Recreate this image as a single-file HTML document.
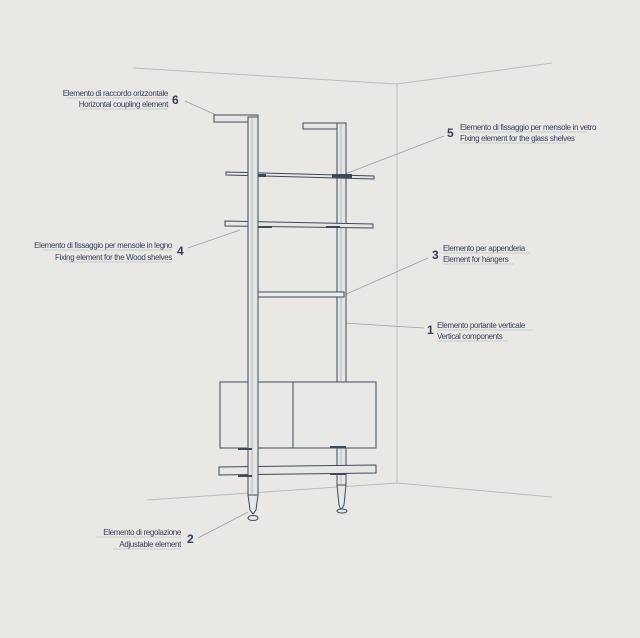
<!DOCTYPE html>
<html><head><meta charset="utf-8"><style>
html,body{margin:0;padding:0;background:#e9e8e5;}
svg{display:block}
text{font-family:"Liberation Sans",sans-serif;fill:#34405a;}
.t{font-size:8px;letter-spacing:-0.35px}
.n{font-size:12px;font-weight:bold}
</style></head><body>
<svg width="640" height="638" viewBox="0 0 640 638">
<rect width="640" height="638" fill="#e9e8e5"/>
<g stroke="#b9bbbd" stroke-width="1" fill="none">
<polyline points="133,68 397,84 552,63"/>
<line x1="397" y1="84" x2="397" y2="483"/>
<polyline points="147,500 397,483 552,497"/>
</g>
<g stroke="#9a9fa6" stroke-width="0.8" fill="none">
<line x1="185" y1="101" x2="216" y2="115"/>
<line x1="444" y1="136" x2="345" y2="174"/>
<line x1="188" y1="248" x2="240" y2="230"/>
<line x1="428" y1="258" x2="342" y2="296"/>
<line x1="424" y1="328" x2="343" y2="323"/>
<line x1="198" y1="538" x2="248" y2="512"/>
</g>
<g stroke="#3d4a5c" stroke-width="1" fill="#e6e6e4">
<rect x="303" y="123" width="43" height="6"/>
<rect x="337" y="123" width="9" height="362"/>
<path d="M337,485 L346,485 L344,505 L341,510 L339,505 Z"/>
<ellipse cx="342" cy="511" rx="5" ry="2"/>
</g>
<line x1="341" y1="124" x2="341" y2="485" stroke="#8e98a5" stroke-width="0.6"/>
<g stroke="#3d4a5c" stroke-width="1" fill="#e6e6e4">
<polygon points="226,172 374,176 374,179 226,175"/>
<polygon points="225,221 373,224 373,228 225,226"/>
<rect x="258" y="292" width="86" height="5" fill="#ecedec"/>
<rect x="220" y="382" width="156" height="66" fill="#e8e8e6"/>
<line x1="293" y1="382" x2="293" y2="448"/>
<polygon points="219,467 376,465 376,473 219,475"/>
<rect x="214" y="115" width="44" height="7"/>
<rect x="248" y="117" width="10" height="378"/>
<path d="M248,495 L258,495 L256,510 L253,514 L250,510 Z"/>
<ellipse cx="253" cy="518" rx="5" ry="2.5"/>
</g>
<line x1="252" y1="118" x2="252" y2="495" stroke="#8e98a5" stroke-width="0.6"/>
<g fill="#3d4a5c">
<rect x="258" y="174" width="8" height="3"/><rect x="332" y="174" width="20" height="4"/>
<rect x="258" y="226" width="14" height="2"/><rect x="326" y="226" width="14" height="2"/>
<rect x="238" y="448" width="14" height="2"/><rect x="330" y="446" width="16" height="2"/>
<rect x="238" y="475" width="14" height="2"/><rect x="330" y="473" width="16" height="2"/>
</g>
<g>
<text class="t" x="168" y="96" text-anchor="end">Elemento di raccordo orizzontale</text>
<text class="t" x="168" y="107" text-anchor="end">Horizontal coupling element</text>
<text class="n" x="172" y="104">6</text>
<text class="t" x="460" y="130">Elemento di fissaggio per mensole in vetro</text>
<text class="t" x="460" y="141">Fixing element for the glass shelves</text>
<text class="n" x="447" y="137">5</text>
<text class="t" x="172" y="248" text-anchor="end">Elemento di fissaggio per mensole in legno</text>
<text class="t" x="172" y="260" text-anchor="end">Fixing element for the Wood shelves</text>
<text class="n" x="177" y="255">4</text>
<text class="t" x="443" y="251">Elemento per appenderia</text>
<text class="t" x="443" y="262">Element for hangers</text>
<text class="n" x="432" y="259">3</text>
<text class="t" x="437" y="328">Elemento portante verticale</text>
<text class="t" x="437" y="339">Vertical components</text>
<text class="n" x="427" y="334">1</text>
<text class="t" x="181" y="535" text-anchor="end">Elemento di regolazione</text>
<text class="t" x="181" y="547" text-anchor="end">Adjustable element</text>
<text class="n" x="187" y="543">2</text>
</g>
<g stroke="#a9b0ba" stroke-width="0.6">
<line x1="66" y1="98" x2="168" y2="98"/><line x1="80" y1="109" x2="168" y2="109"/>
<line x1="460" y1="132" x2="587" y2="132"/><line x1="460" y1="143" x2="567" y2="143"/>
<line x1="42" y1="250" x2="172" y2="250"/><line x1="62" y1="262" x2="172" y2="262"/>
<line x1="443" y1="253" x2="530" y2="253"/><line x1="443" y1="264" x2="514" y2="264"/>
<line x1="437" y1="330" x2="534" y2="330"/><line x1="437" y1="341" x2="508" y2="341"/>
<line x1="96" y1="537" x2="181" y2="537"/><line x1="113" y1="549" x2="181" y2="549"/>
</g>
</svg>
</body></html>
